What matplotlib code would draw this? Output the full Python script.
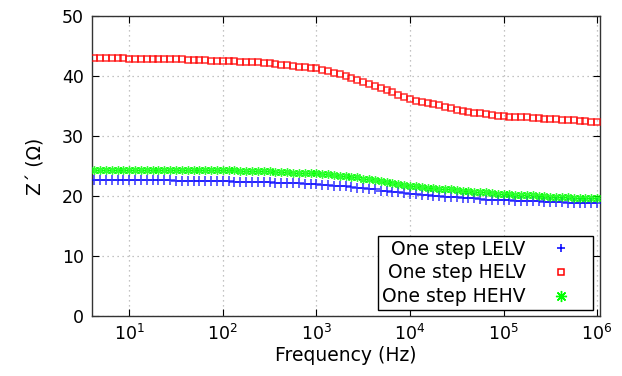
import matplotlib.pyplot as plt
from matplotlib.ticker import NullLocator
import numpy as np

# 頻率 (Hz)
freq = [4.22, 4.87, 5.62, 6.49, 7.50, 8.66,
        1.00e1, 1.15e1, 1.33e1, 1.54e1, 1.78e1, 2.05e1, 2.37e1, 2.74e1, 3.16e1, 3.65e1, 4.22e1, 4.87e1, 5.62e1, 6.49e1, 7.50e1, 8.66e1,
        1.00e2, 1.15e2, 1.33e2, 1.54e2, 1.78e2, 2.05e2, 2.37e2, 2.74e2, 3.16e2, 3.65e2, 4.22e2, 4.87e2, 5.62e2, 6.49e2, 7.50e2, 8.66e2,
        1.00e3, 1.15e3, 1.33e3, 1.54e3, 1.78e3, 2.05e3, 2.37e3, 2.74e3, 3.16e3, 3.65e3, 4.22e3, 4.87e3, 5.62e3, 6.49e3, 7.50e3, 8.66e3,
        1.00e4, 1.15e4, 1.33e4, 1.54e4, 1.78e4, 2.05e4, 2.37e4, 2.74e4, 3.16e4, 3.65e4, 4.22e4, 4.87e4, 5.62e4, 6.49e4, 7.50e4, 8.66e4,
        1.00e5, 1.15e5, 1.33e5, 1.54e5, 1.78e5, 2.05e5, 2.37e5, 2.74e5, 3.16e5, 3.65e5, 4.22e5, 4.87e5, 5.62e5, 6.49e5, 7.50e5, 8.66e5,
        1.00e6]

# One step LELV
z_lelv = [22.7, 22.7, 22.7, 22.7, 22.7, 22.7,
          22.6, 22.6, 22.6, 22.6, 22.6, 22.6, 22.6, 22.6, 22.5, 22.5, 22.5, 22.5, 22.5, 22.5, 22.5, 22.5,
          22.5, 22.5, 22.4, 22.4, 22.4, 22.4, 22.3, 22.3, 22.3, 22.2, 22.2, 22.2, 22.1, 22.1, 22.0, 22.0,
          22.0, 21.9, 21.8, 21.7, 21.7, 21.6, 21.5, 21.4, 21.4, 21.2, 21.1, 20.9, 20.8, 20.7, 20.6, 20.5,
          20.4, 20.3, 20.2, 20.1, 20.0, 20.0, 19.9, 19.9, 19.8, 19.7, 19.6, 19.6, 19.5, 19.4, 19.4, 19.3,
          19.3, 19.3, 19.2, 19.2, 19.1, 19.1, 19.1, 19.0, 19.0, 19.0, 19.0, 18.9, 18.9, 18.9, 18.8, 18.8,
          18.8]

# One step HELV
z_helv = [43.0, 43.0, 43.0, 43.0, 43.0, 43.0,
          42.9, 42.9, 42.9, 42.9, 42.9, 42.8, 42.8, 42.8, 42.8, 42.8, 42.7, 42.7, 42.7, 42.7, 42.6, 42.6,
          42.6, 42.5, 42.5, 42.4, 42.4, 42.3, 42.3, 42.2, 42.2, 42.0, 41.9, 41.8, 41.7, 41.6, 41.5, 41.4,
          41.3, 41.0, 40.8, 40.5, 40.3, 40.0, 39.6, 39.3, 39.0, 38.7, 38.3, 38.0, 37.7, 37.3, 36.9, 36.5,
          36.1, 35.9, 35.7, 35.5, 35.3, 35.1, 34.8, 34.6, 34.4, 34.2, 34.0, 33.9, 33.8, 33.6, 33.5, 33.4,
          33.3, 33.2, 33.2, 33.1, 33.1, 33.0, 33.0, 32.9, 32.9, 32.8, 32.7, 32.7, 32.6, 32.5, 32.5, 32.4,
          32.3]

# One step HEHV
z_hehv = [24.4, 24.4, 24.4, 24.4, 24.4, 24.4,
          24.4, 24.4, 24.4, 24.4, 24.4, 24.4, 24.4, 24.4, 24.3, 24.3, 24.3, 24.3, 24.3, 24.3, 24.3, 24.3,
          24.3, 24.3, 24.3, 24.2, 24.2, 24.2, 24.1, 24.1, 24.1, 24.0, 24.0, 24.0, 23.9, 23.9, 23.9, 23.8,
          23.8, 23.7, 23.6, 23.5, 23.4, 23.3, 23.2, 23.1, 22.9, 22.8, 22.6, 22.5, 22.3, 22.2, 22.0, 21.9,
          21.7, 21.6, 21.5, 21.4, 21.3, 21.2, 21.1, 21.1, 21.0, 20.9, 20.8, 20.7, 20.7, 20.6, 20.5, 20.4,
          20.3, 20.3, 20.2, 20.2, 20.1, 20.1, 20.0, 20.0, 19.9, 19.9, 19.8, 19.8, 19.7, 19.7, 19.7, 19.6,
          19.6]

labels = ["One step LELV", "One step HELV", "One step HEHV"]

plt.rcParams["font.family"] = "DejaVu Sans"

fig = plt.figure(figsize=(6.22, 3.76), dpi=100)
ax = fig.add_axes([0.148, 0.160, 0.817, 0.797])

ax.plot(freq, z_lelv, linestyle="none", marker="+", markersize=6.5, markeredgewidth=1.1,
        color="#0000ff", alpha=0.8, label=labels[0], zorder=3)
ax.plot(freq, z_helv, linestyle="none", marker="s", markersize=4.6, markeredgewidth=1.1,
        markerfacecolor="none", markeredgecolor="#ff0000", alpha=0.8, label=labels[1], zorder=3)
ax.plot(freq, z_hehv, linestyle="none", marker=(8, 2, 0), markersize=6, markeredgewidth=1.0,
        color="#00ff00", alpha=0.8, label=labels[2], zorder=3)

ax.set_xscale("log")
ax.set_xlim(4.0, 1.08e6)
ax.set_ylim(0, 50)
ax.set_xticks([1e1, 1e2, 1e3, 1e4, 1e5, 1e6])
ax.xaxis.set_minor_locator(NullLocator())
ax.set_yticks([0, 10, 20, 30, 40, 50])

ax.tick_params(direction="in", top=True, right=True, length=5, labelsize=12.5, pad=6)
ax.grid(True, color="#b0b0b0", linestyle=(0, (1, 3)), linewidth=0.9, zorder=0)
for s in ax.spines.values():
    s.set_color("#333333")
    s.set_linewidth(1.0)

ax.set_xlabel("Frequency (Hz)", fontsize=13.5, labelpad=1)
ax.set_ylabel("Z´ (Ω)", fontsize=13.5, labelpad=12)

leg = ax.legend(loc="lower right", bbox_to_anchor=(0.986, 0.02), borderaxespad=0,
                markerfirst=False, fontsize=13.5, handlelength=3.0, handletextpad=0.4,
                labelspacing=0.25, borderpad=0.2, fancybox=False, framealpha=1,
                edgecolor="black")
leg.get_frame().set_linewidth(1.0)
# 圖例標記大小
for h, ms in zip(leg.legend_handles, [6, 5, 8]):
    h.set_alpha(1)
    h.set_markersize(ms)

plt.savefig("out.png", dpi=100)
